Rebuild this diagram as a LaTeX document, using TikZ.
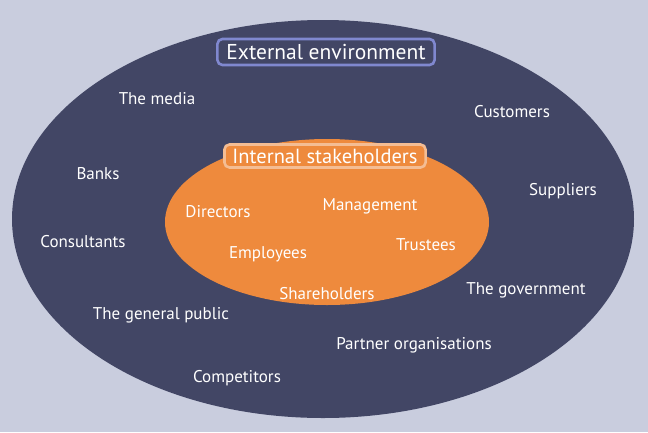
\documentclass[tikz,border=0pt]{standalone}
\usepackage{fontspec}
\setmainfont{PT Sans}
\usepackage{tikz}
\usetikzlibrary{shapes.geometric}
\definecolor{bgpale}{HTML}{C9CDDE}
\definecolor{envnavy}{HTML}{424665}
\definecolor{inorange}{HTML}{EE8A3D}
\definecolor{envframe}{HTML}{8088CF}
\definecolor{inframe}{HTML}{F4BD94}
\begin{document}
\begin{tikzpicture}[x=1pt,y=-1pt,font=\fontsize{17}{20}\selectfont,
  party/.style={text=white,inner sep=0pt},
  heading/.style={rectangle,rounded corners=5pt,line width=2.6pt,text=white,font=\fontsize{21.5}{24}\selectfont,inner xsep=9pt,inner ysep=0pt,minimum height=26}]
\fill[bgpale] (0,0) rectangle (648,432);
\useasboundingbox (0,0) rectangle (648,432);
\node[ellipse,fill=envnavy,minimum width=622,minimum height=398,inner sep=0pt] (outer) at (323,219) {};
\node[ellipse,fill=inorange,minimum width=324,minimum height=166,inner sep=0pt] (inner) at (327,222) {};
\node[heading,draw=envframe,fill=envnavy] (exthead) at (326,52) {External environment};
\node[heading,draw=inframe,fill=inorange,minimum height=23,inner xsep=8pt,font=\fontsize{20.5}{23}\selectfont] (inthead) at (325,156) {Internal stakeholders};
\node[party] (media) at (157,99) {The media};
\node[party] (customers) at (512,112) {Customers};
\node[party] (banks) at (98,174) {Banks};
\node[party] (suppliers) at (563,191) {Suppliers};
\node[party] (consultants) at (83,242) {Consultants};
\node[party] (public) at (161,315) {The general public};
\node[party] (government) at (526,290) {The government};
\node[party] (partners) at (414,345) {Partner organisations};
\node[party] (competitors) at (237,378) {Competitors};
\node[party] (directors) at (218,212) {Directors};
\node[party] (management) at (370,206) {Management};
\node[party] (employees) at (268,254) {Employees};
\node[party] (trustees) at (426,245) {Trustees};
\node[party] (shareholders) at (327,294) {Shareholders};
\end{tikzpicture}
\end{document}
